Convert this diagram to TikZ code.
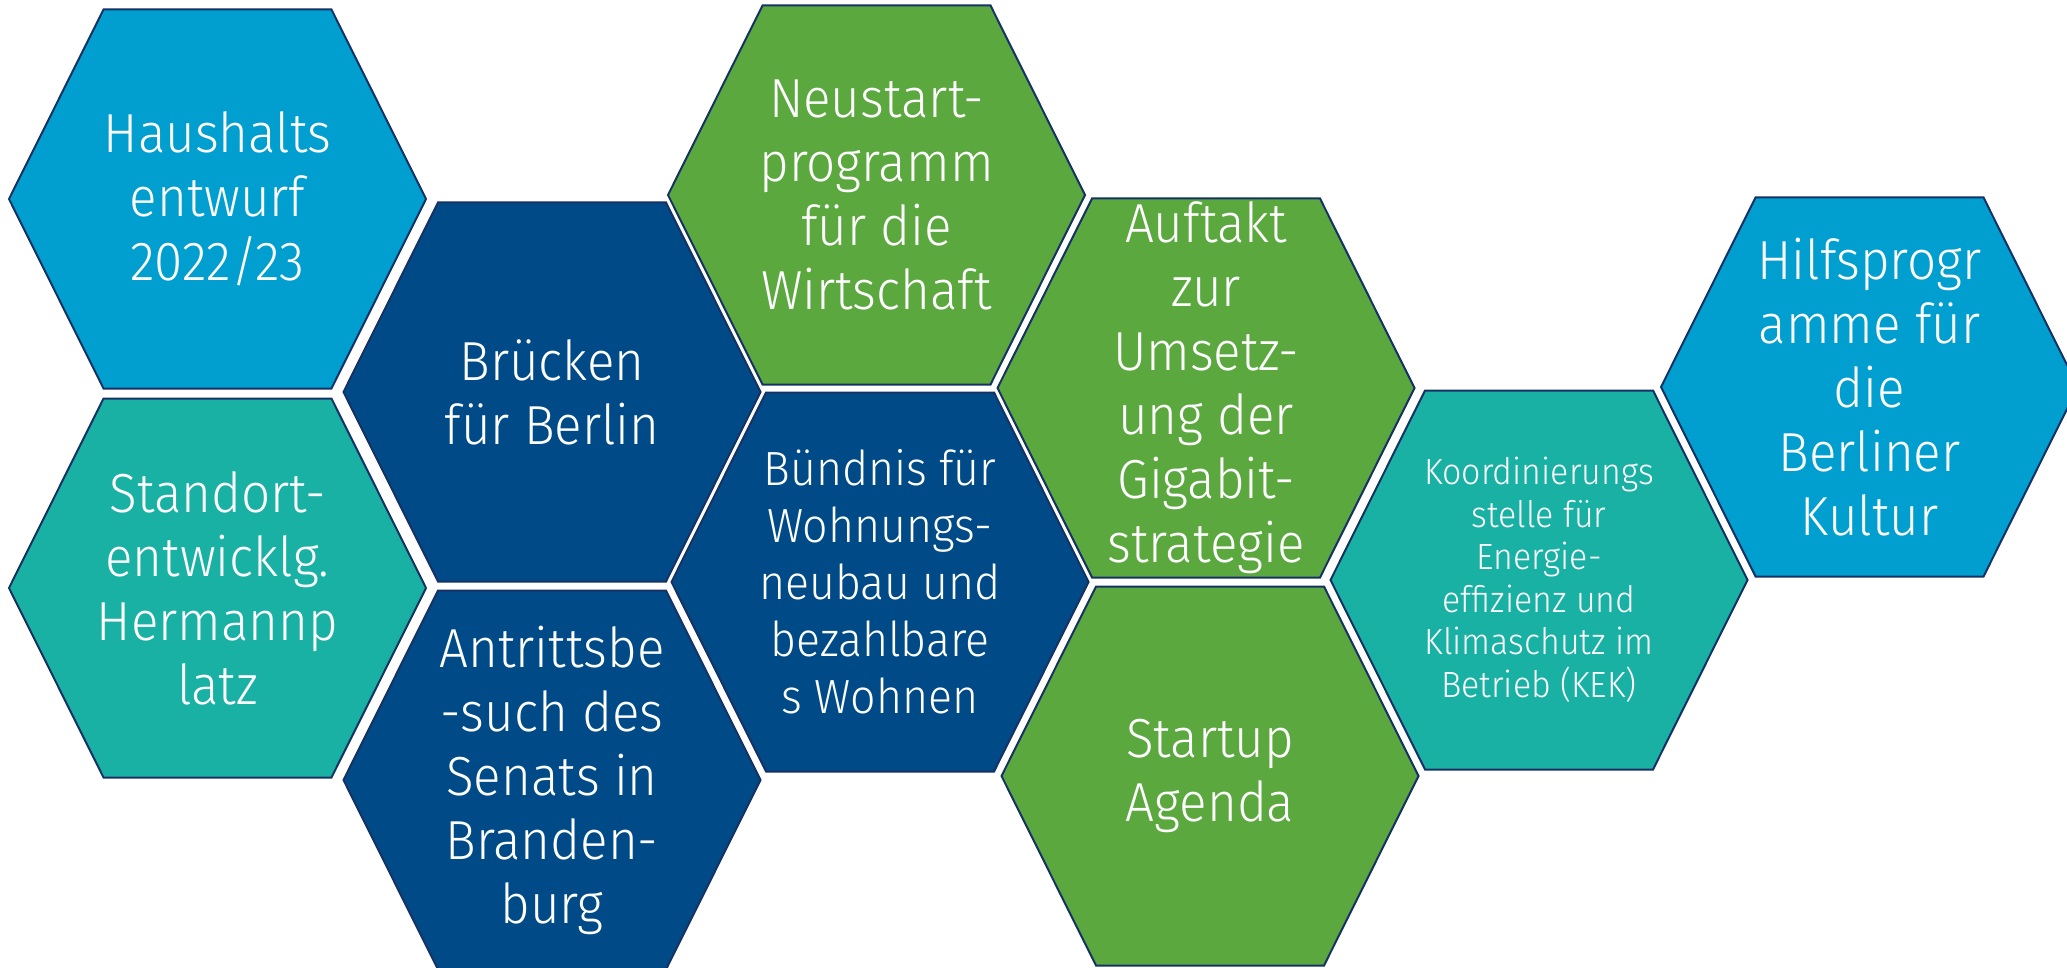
\documentclass[tikz,border=0pt]{standalone}
\usepackage{fontspec}
\setmainfont{Fira Sans}[UprightFont=* Light, FakeStretch=0.93]
\definecolor{hlblue}{RGB}{0,159,207}
\definecolor{hdblue}{RGB}{0,75,135}
\definecolor{hgreen}{RGB}{91,168,63}
\definecolor{hteal}{RGB}{26,177,165}
\definecolor{hborder}{RGB}{22,50,100}
\tikzset{
  hexline/.style={draw=hborder, line width=2pt, line join=miter},
  hextext/.style={text=white, align=center, font=\fontsize{55}{64}\selectfont, inner sep=0pt},
  midtext/.style={hextext, font=\fontsize{48}{57}\selectfont},
  smalltext/.style={hextext, font=\fontsize{36.5}{42.5}\selectfont},
}
\newcommand{\hexcell}[6]{%
  \begin{scope}[shift={(#2,#3)}]
    \filldraw[hexline, fill=#4] (-114,-189.5) -- (114,-189.5) -- (208.5,0) -- (114,189.5) -- (-114,189.5) -- (-208.5,0) -- cycle;
    \node[#5] (#1) at (0,0) {#6};
  \end{scope}}
\begin{document}
\begin{tikzpicture}[x=1pt,y=-1pt]
\useasboundingbox (0,0) rectangle (2067,968);
\fill[white] (0,0) rectangle (2067,968);
\hexcell{haushalt}{217.5}{199}{hlblue}{hextext}{Haushalts\\entwurf\\2022/23}
\hexcell{standort}{217.5}{588}{hteal}{hextext}{Standort-\\entwicklg.\\Hermannp\\latz}
\hexcell{bruecken}{552}{392}{hdblue}{hextext}{Brücken\\für Berlin}
\hexcell{antritt}{552}{780}{hdblue}{hextext}{Antrittsbe\\-such des\\Senats in\\Branden-\\burg}
\hexcell{neustart}{876.5}{195}{hgreen}{hextext}{Neustart-\\programm\\für die\\Wirtschaft}
\hexcell{buendnis}{880}{582}{hdblue}{midtext}{Bündnis für\\Wohnungs-\\neubau und\\bezahlbare\\s Wohnen}
\hexcell{auftakt}{1206}{388}{hgreen}{hextext}{Auftakt\\zur\\Umsetz-\\ung der\\Gigabit-\\strategie}
\hexcell{startup}{1210}{776}{hgreen}{hextext}{Startup\\Agenda}
\hexcell{koord}{1539}{580}{hteal}{smalltext}{Koordinierungs\\stelle für\\Energie-\\effizienz und\\Klimaschutz im\\Betrieb (KEK)}
\hexcell{hilfs}{1869.5}{387}{hlblue}{hextext}{Hilfsprogr\\amme für\\die\\Berliner\\Kultur}
\end{tikzpicture}
\end{document}
